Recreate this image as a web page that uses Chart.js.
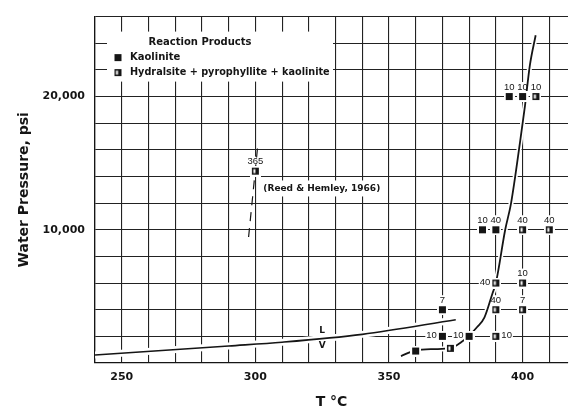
<!DOCTYPE html>
<html>
<head>
<meta charset="utf-8">
<script src="https://cdn.jsdelivr.net/npm/chart.js@4.4.0/dist/chart.umd.min.js"></script>
<style>
  html, body { margin: 0; padding: 0; background: #fff; }
</style>
</head>
<body>
<canvas id="chart" width="574" height="415"></canvas>
<script>
// --- DATA ---
const xTicks = [250, 300, 350, 400];
const yTicks = [10000, 20000];
const yTickLabels = ['10,000', '20,000'];

// Kaolinite runs: temperature (C), water pressure (psi), run length (days)
const kaolT = [360, 370, 380, 370, 385, 390, 395, 400];
const kaolP = [900, 2000, 2000, 4000, 10000, 10000, 20000, 20000];
const kaolDays = ['', '10', '10', '7', '10', '40', '10', '10'];

// Hydralsite + pyrophyllite + kaolinite runs
const hydT = [373, 390, 390, 400, 390, 400, 400, 410, 405];
const hydP = [1100, 2000, 4000, 4000, 6000, 6000, 10000, 10000, 20000];
const hydDays = ['', '10', '40', '7', '40', '10', '40', '40', '10'];

// Reed & Hemley (1966) run and its dashed trace
const reedT = [300];
const reedP = [14400];
const reedDays = ['365'];
const reedLineT = [300.8, 297.4];
const reedLineP = [16100, 9300];

// reaction boundary
const boundT = [354.5, 360, 367, 373, 377, 380, 383, 385.7, 388.7, 390, 393.5, 395.7, 399, 400.9, 402.7, 404.9];
const boundP = [520, 950, 1040, 1110, 1550, 2050, 2700, 3400, 5200, 6000, 10000, 12000, 16500, 19300, 22300, 24600];

// liquid / vapour curve
const lvT = [240, 290, 310, 340, 375];
const lvP = [600, 1280, 1560, 2150, 3250];

// label placement around the points
const kaolSide = ['', 'left', 'left', 'above', 'above', 'above', 'above', 'above'];
const hydSide = ['', 'right', 'above', 'above', 'left', 'above', 'above', 'above', 'above'];

const INK = '#151515';
const FONT = "'DejaVu Sans', sans-serif";
const LABEL_FONT = "9.5px 'Liberation Sans', sans-serif";

// point symbols (white halo breaks the grid like the original)
function makeSymbol(half) {
    const c = document.createElement('canvas');
    c.width = 11; c.height = 11;
    const g = c.getContext('2d');
    g.fillStyle = '#fff';
    g.fillRect(0, 0, 11, 11);
    g.fillStyle = INK;
    g.fillRect(2, 2, 7, 7);
    if (half) {
        g.fillStyle = '#fff';
        g.fillRect(3.5, 3.5, 2, 4);
    }
    return c;
}
const fullSym = makeSymbol(false);
const halfSym = makeSymbol(true);

const toXY = (xs, ys) => xs.map((v, i) => ({ x: v, y: ys[i] }));

function labelItems(chart) {
    const { x, y } = chart.scales;
    const items = [];
    const add = (T, P, days, sides) => {
        T.forEach((t, i) => {
            if (!days[i]) return;
            const px = x.getPixelForValue(t), py = y.getPixelForValue(P[i]);
            const side = sides[i];
            let lx = px, ly = py - 9.5, align = 'center';
            if (side === 'left') { lx = px - 5.5; ly = py - 1; align = 'right'; }
            if (side === 'right') { lx = px + 5.5; ly = py - 1; align = 'left'; }
            items.push({ text: days[i], x: lx, y: ly, align });
        });
    };
    add(kaolT, kaolP, kaolDays, kaolSide);
    add(hydT, hydP, hydDays, hydSide);
    add(reedT, reedP, reedDays, ['above']);
    return items;
}

function boxFor(ctx, it) {
    const w = ctx.measureText(it.text).width;
    let x0 = it.x - w / 2;
    if (it.align === 'right') x0 = it.x - w;
    if (it.align === 'left') x0 = it.x;
    return [x0 - 1, it.y - 5, w + 2, 10];
}

const annotations = {
    id: 'annotations',
    beforeDatasetsDraw(chart) {
        const { ctx, chartArea: a, scales: { x, y } } = chart;
        ctx.save();
        ctx.fillStyle = '#fff';
        // legend panel
        ctx.fillRect(a.left + 12, a.top + 15, 226, 50);
        // reference note panel
        ctx.font = 'bold 9px ' + FONT;
        const rx = x.getPixelForValue(303), ry = y.getPixelForValue(13100);
        const rw = ctx.measureText('(Reed & Hemley, 1966)').width;
        ctx.fillRect(rx - 2, ry - 8, rw + 4, 16);
        // run length labels
        ctx.font = LABEL_FONT;
        labelItems(chart).forEach(it => {
            const b = boxFor(ctx, it);
            ctx.fillRect(b[0], b[1], b[2], b[3]);
        });
        // L / V
        [['L', 325, 2450], ['V', 325, 1330]].forEach(([t, T, P]) => {
            ctx.fillRect(x.getPixelForValue(T) - 5, y.getPixelForValue(P) - 6, 10, 12);
        });
        ctx.restore();
    },
    afterDatasetsDraw(chart) {
        const { ctx, chartArea: a, scales: { x, y } } = chart;
        ctx.save();
        ctx.fillStyle = INK;
        ctx.textBaseline = 'middle';

        // run length labels
        ctx.font = LABEL_FONT;
        labelItems(chart).forEach(it => {
            ctx.textAlign = it.align;
            ctx.fillText(it.text, it.x, it.y);
        });

        // L / V
        ctx.font = 'bold 9px ' + FONT;
        ctx.textAlign = 'center';
        ctx.fillText('L', x.getPixelForValue(325), y.getPixelForValue(2450));
        ctx.fillText('V', x.getPixelForValue(325), y.getPixelForValue(1330));

        // reference note
        ctx.textAlign = 'left';
        ctx.fillText('(Reed & Hemley, 1966)', x.getPixelForValue(303), y.getPixelForValue(13100));

        // legend
        const lx = a.left + 23, ly = a.top + 26;
        ctx.font = 'bold 10px ' + FONT;
        ctx.textAlign = 'center';
        ctx.fillText('Reaction Products', a.left + 105, ly);
        ctx.textAlign = 'left';
        ctx.drawImage(fullSym, lx - 5.5, ly + 15 - 5.5);
        ctx.fillText('Kaolinite', lx + 12, ly + 15);
        ctx.drawImage(halfSym, lx - 5.5, ly + 30 - 5.5);
        ctx.font = 'bold 9.7px ' + FONT;
        ctx.fillText('Hydralsite + pyrophyllite + kaolinite', lx + 12, ly + 30);
        ctx.restore();
    }
};

const tickFont = { family: FONT, size: 11, weight: 'bold' };
const curve = (xs, ys, color, width) => ({
    data: toXY(xs, ys), showLine: true, pointRadius: 0,
    borderColor: color, borderWidth: width, cubicInterpolationMode: 'monotone'
});

new Chart(document.getElementById('chart'), {
    type: 'scatter',
    data: {
        datasets: [
            { label: 'Kaolinite', data: toXY(kaolT, kaolP), pointStyle: fullSym, pointRadius: 5 },
            { label: 'Hydralsite + pyrophyllite + kaolinite', data: toXY(hydT, hydP), pointStyle: halfSym, pointRadius: 5 },
            { label: 'Reed & Hemley, 1966', data: toXY(reedT, reedP), pointStyle: halfSym, pointRadius: 5 },
            { label: 'boundary', ...curve(boundT, boundP, INK, 1.8) },
            { label: 'L-V', ...curve(lvT, lvP, INK, 1.6) },
            { label: 'Reed trace', data: toXY(reedLineT, reedLineP), showLine: true, pointRadius: 0,
              borderColor: INK, borderWidth: 1.2, borderDash: [9, 7] },
            // white margins the draughtsman left round the curves
            { label: 'boundary halo', ...curve(boundT, boundP, '#fff', 5) },
            { label: 'L-V halo', ...curve(lvT, lvP, '#fff', 7) }
        ]
    },
    options: {
        responsive: false,
        animation: false,
        layout: { padding: { left: 0, right: 3, top: 12, bottom: 0 } },
        plugins: { legend: { display: false }, tooltip: { enabled: false } },
        scales: {
            x: {
                type: 'linear', min: 240, max: 417,
                border: { color: INK, width: 1.3 },
                grid: { color: '#222', lineWidth: 1.1, drawTicks: false },
                ticks: {
                    stepSize: 10, includeBounds: false, autoSkip: false, maxRotation: 0,
                    padding: 8, color: INK, font: tickFont,
                    callback: v => xTicks.includes(v) ? String(v) : ''
                },
                title: { display: true, text: 'T °C', color: INK,
                         font: { family: FONT, size: 14, weight: 'bold' }, padding: { bottom: 4 } },
                afterFit: s => { s.height = 52; }
            },
            y: {
                type: 'linear', min: 0, max: 26000,
                border: { color: INK, width: 1.3 },
                grid: { color: '#222', lineWidth: 1.1, drawTicks: false },
                ticks: {
                    stepSize: 2000, autoSkip: false, padding: 10, color: INK, font: tickFont,
                    callback: v => { const i = yTicks.indexOf(v); return i >= 0 ? yTickLabels[i] : ''; }
                },
                title: { display: true, text: 'Water Pressure, psi', color: INK,
                         font: { family: FONT, size: 14, weight: 'bold' }, padding: { top: 16 } },
                afterFit: s => { s.width = 95; }
            }
        }
    },
    plugins: [annotations]
});
</script>
</body>
</html>
